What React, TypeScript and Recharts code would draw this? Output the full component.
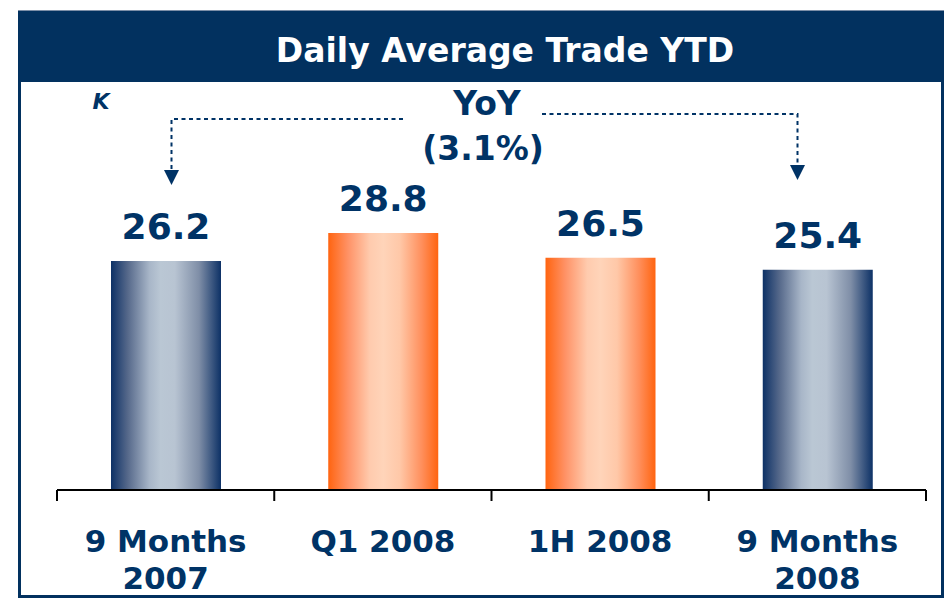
import { BarChart, Bar, XAxis, YAxis, Cell, LabelList } from 'recharts';

const categories = ['9 Months 2007', 'Q1 2008', '1H 2008', '9 Months 2008'];
const categoryLines = [['9 Months', '2007'], ['Q1 2008'], ['1H 2008'], ['9 Months', '2008']];
const trades = [26.2, 28.8, 26.5, 25.4];
const barKinds = ['blue', 'orange', 'orange', 'blue'];

const NAVY = '#003366';
const HEADER = '#02315f';
const FONT = '"DejaVu Sans", Verdana, sans-serif';

const data = categories.map((name, i) => ({ name, value: trades[i], kind: barKinds[i] }));

const yoy = ((trades[trades.length - 1] - trades[0]) / trades[0]) * 100;
const yoyText = yoy < 0 ? `(${Math.abs(yoy).toFixed(1)}%)` : `${yoy.toFixed(1)}%`;

const CategoryTick = ({ x, y, payload, index }: any) => {
  const half = payload?.offset ?? 108.6;
  const lines = categoryLines[index] || [payload.value];
  return (
    <g>
      <line x1={x - half} x2={x - half} y1={y} y2={y + 11} stroke="#000" strokeWidth={2} />
      {index === categories.length - 1 && (
        <line x1={x + half} x2={x + half} y1={y} y2={y + 11} stroke="#000" strokeWidth={2} />
      )}
      {lines.map((t: string, i: number) => (
        <text
          key={i}
          x={x}
          y={y + 62 + i * 37}
          textAnchor="middle"
          fill={NAVY}
          fontFamily={FONT}
          fontWeight="bold"
          fontSize={31}
        >
          {t}
        </text>
      ))}
    </g>
  );
};

const ValueLabel = ({ x, y, width, value }: any) => (
  <text
    x={x + width / 2}
    y={y - 22}
    textAnchor="middle"
    fill={NAVY}
    fontFamily={FONT}
    fontWeight="bold"
    fontSize={36}
  >
    {value}
  </text>
);

export default function App() {
  return (
    <div style={{ position: 'fixed', left: 0, top: 0, width: 944, height: 598, background: '#fff' }}>
      {/* frame + header */}
      <svg width={944} height={598} style={{ position: 'absolute', left: 0, top: 0 }}>
        <rect x={19.5} y={11.5} width={923} height={585} fill="#fff" stroke={HEADER} strokeWidth={3} />
        <rect x={18} y={10} width={926} height={72} fill={HEADER} />
        <line x1={18} x2={944} y1={10.5} y2={10.5} stroke="#7d8fa8" strokeWidth={1} />
        <text x={505} y={62} textAnchor="middle" fill="#fff" fontFamily={FONT} fontWeight="bold" fontSize={33}>
          Daily Average Trade YTD
        </text>
      </svg>

      <div style={{ position: 'absolute', left: 0, top: 0 }}>
        <BarChart width={944} height={598} data={data} margin={{ top: 112, right: 18, left: 57, bottom: 8 }}>
          <defs>
            <linearGradient id="blueGrad" x1="0" y1="0" x2="1" y2="0">
              <stop offset="0%" stopColor="#0d3166" />
              <stop offset="15%" stopColor="#55688a" />
              <stop offset="35%" stopColor="#a8b6c8" />
              <stop offset="45%" stopColor="#bac7d4" />
              <stop offset="58%" stopColor="#b8c4d2" />
              <stop offset="80%" stopColor="#7f8ea7" />
              <stop offset="100%" stopColor="#0d3166" />
            </linearGradient>
            <linearGradient id="orangeGrad" x1="0" y1="0" x2="1" y2="0">
              <stop offset="0%" stopColor="#ff6410" />
              <stop offset="18%" stopColor="#ff9266" />
              <stop offset="38%" stopColor="#ffcbae" />
              <stop offset="50%" stopColor="#ffd4b9" />
              <stop offset="65%" stopColor="#ffc8a8" />
              <stop offset="85%" stopColor="#ff8f5c" />
              <stop offset="100%" stopColor="#ff6410" />
            </linearGradient>
          </defs>
          <XAxis
            dataKey="name"
            height={100}
            axisLine={{ stroke: '#000', strokeWidth: 2 }}
            tickLine={false}
            tickSize={0}
            tickMargin={0}
            interval={0}
            tick={<CategoryTick />}
          />
          <YAxis hide domain={[5, 40]} allowDataOverflow />
          <Bar dataKey="value" barSize={110} isAnimationActive={false}>
            {data.map((d, i) => (
              <Cell key={`cell-${i}`} fill={d.kind === 'blue' ? 'url(#blueGrad)' : 'url(#orangeGrad)'} />
            ))}
            <LabelList dataKey="value" content={<ValueLabel />} />
          </Bar>
        </BarChart>
      </div>

      {/* YoY annotation */}
      <svg width={944} height={598} style={{ position: 'absolute', left: 0, top: 0, pointerEvents: 'none' }}>
        <text x={101} y={109} textAnchor="middle" fill={NAVY} fontFamily={FONT} fontWeight="bold" fontStyle="italic" fontSize={22}>
          K
        </text>
        <text x={487} y={115} textAnchor="middle" fill={NAVY} fontFamily={FONT} fontWeight="bold" fontSize={33}>
          YoY
        </text>
        <text x={483} y={160} textAnchor="middle" fill={NAVY} fontFamily={FONT} fontWeight="bold" fontSize={33}>
          {yoyText}
        </text>
        <path d="M403 119 H171.5 V171" fill="none" stroke={NAVY} strokeWidth={2} strokeDasharray="4 3.5" />
        <path d="M164 170 L179 170 L171.5 185 Z" fill={NAVY} />
        <path d="M542 114 H797.5 V166" fill="none" stroke={NAVY} strokeWidth={2} strokeDasharray="4 3.5" />
        <path d="M790 165 L805 165 L797.5 180 Z" fill={NAVY} />
      </svg>
    </div>
  );
}
